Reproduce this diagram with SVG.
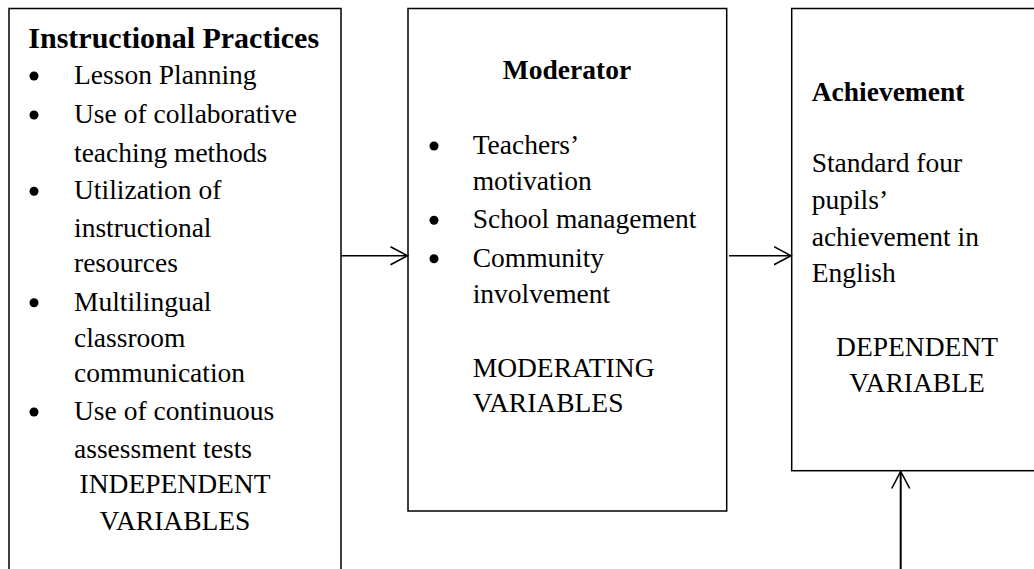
<svg xmlns="http://www.w3.org/2000/svg" width="1034" height="569" viewBox="0 0 1034 569">
<style>
.box{fill:#fff;stroke:#000;stroke-width:1.5}
.t{font-family:"Liberation Serif","Times New Roman",serif;font-size:27.5px;fill:#000}
.b{font-weight:bold}
.c{text-anchor:middle}
.dot{fill:#000}
.conn{stroke:#000;stroke-width:1.6;fill:none}
</style>
<defs>
<marker id="arr" markerUnits="userSpaceOnUse" markerWidth="22" markerHeight="22" refX="17.5" refY="10" orient="auto" viewBox="0 0 22 20">
<path d="M0.5,1 L17.5,10 L0.5,19" fill="none" stroke="#000" stroke-width="1.6"/>
</marker>
</defs>
<rect width="1034" height="569" fill="#fff"/>
<g id="independent">
<rect class="box" x="9" y="8.5" width="332" height="600"/>
<text class="t b" x="28.3" y="47.7" style="font-size:30px">Instructional Practices</text>
<circle class="dot" cx="34" cy="76" r="4.5"/>
<text class="t" x="74" y="84">Lesson Planning</text>
<circle class="dot" cx="34" cy="115" r="4.5"/>
<text class="t" x="74" y="123">Use of collaborative</text>
<text class="t" x="74" y="161.5">teaching methods</text>
<circle class="dot" cx="34" cy="191.3" r="4.5"/>
<text class="t" x="74" y="199.3">Utilization of</text>
<text class="t" x="74" y="236.7">instructional</text>
<text class="t" x="74" y="272">resources</text>
<circle class="dot" cx="34" cy="302.7" r="4.5"/>
<text class="t" x="74" y="310.7">Multilingual</text>
<text class="t" x="74" y="346.7">classroom</text>
<text class="t" x="74" y="382">communication</text>
<circle class="dot" cx="34" cy="412" r="4.5"/>
<text class="t" x="74" y="420">Use of continuous</text>
<text class="t" x="74" y="458">assessment tests</text>
<text class="t c" x="175" y="493">INDEPENDENT</text>
<text class="t c" x="175" y="530">VARIABLES</text>
</g>
<g id="moderator">
<rect class="box" x="408" y="8.5" width="318.7" height="502.5"/>
<text class="t b c" x="567" y="79.3">Moderator</text>
<circle class="dot" cx="434" cy="146" r="4.5"/>
<text class="t" x="472.7" y="154">Teachers’</text>
<text class="t" x="472.7" y="190">motivation</text>
<circle class="dot" cx="434" cy="220.3" r="4.5"/>
<text class="t" x="472.7" y="228.3">School management</text>
<circle class="dot" cx="434" cy="258.7" r="4.5"/>
<text class="t" x="472.7" y="266.7">Community</text>
<text class="t" x="472.7" y="303.3">involvement</text>
<text class="t" x="472.7" y="377.3">MODERATING</text>
<text class="t" x="472.7" y="411.7">VARIABLES</text>
</g>
<g id="achievement">
<rect class="box" x="791.7" y="8.5" width="300" height="462.2"/>
<text class="t b" x="811.7" y="100.7">Achievement</text>
<text class="t" x="811.7" y="172">Standard four</text>
<text class="t" x="811.7" y="209">pupils’</text>
<text class="t" x="811.7" y="245.5">achievement in</text>
<text class="t" x="811.7" y="282">English</text>
<text class="t c" x="917" y="355.7">DEPENDENT</text>
<text class="t c" x="917" y="391.7">VARIABLE</text>
</g>
<g id="connectors">
<line class="conn" x1="341" y1="255.7" x2="407.5" y2="255.7" marker-end="url(#arr)"/>
<line class="conn" x1="729" y1="255.7" x2="791" y2="255.7" marker-end="url(#arr)"/>
<line class="conn" x1="900.7" y1="575" x2="900.7" y2="471.5" marker-end="url(#arr)" style="stroke-width:2"/>
</g>
</svg>
